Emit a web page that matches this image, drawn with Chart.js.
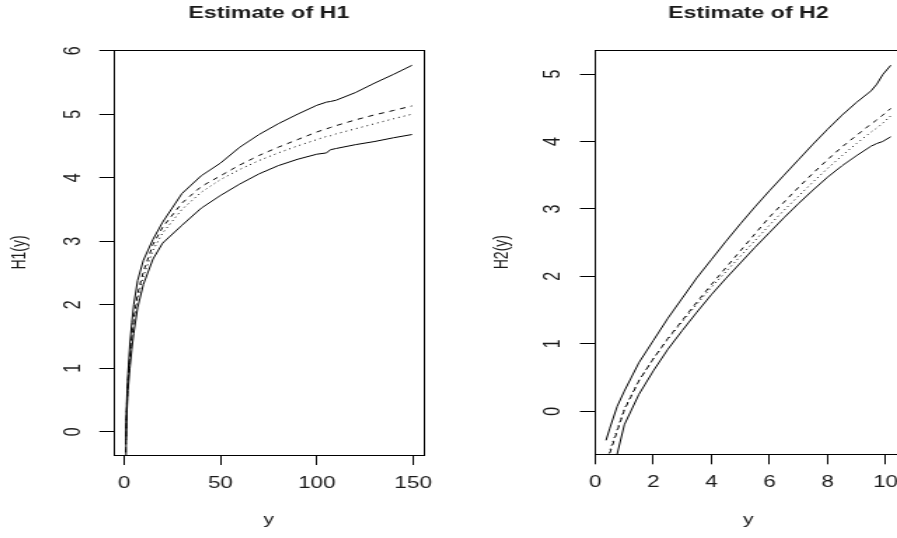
<!DOCTYPE html>
<html>
<head>
<meta charset="utf-8">
<script src="https://cdn.jsdelivr.net/npm/chart.js"></script>
<style>
    html, body { margin: 0; padding: 0; background: #fff; overflow: hidden; }
    #wrap { position: relative; width: 897px; height: 538px; overflow: hidden; }
    #wrap canvas { position: absolute; top: 0; }
</style>
</head>
<body>
<div id="wrap">
    <canvas id="h1Chart" width="320" height="538" style="left:0px; width:448.5px; height:538px"></canvas>
    <canvas id="h2Chart" width="325" height="538" style="left:448.5px; width:455.5px; height:538px"></canvas>
</div>
<script>
// ---- H1 panel data ----
var h1X      = [0.75, 1, 1.5, 2, 3, 4, 5, 7, 10, 15, 20, 30, 40, 50, 60, 70, 80, 90, 100, 105, 107, 110, 120, 130, 140, 149.4];
var h1Upper  = [-0.13, 0.15, 0.6, 0.92, 1.38, 1.72, 2.0, 2.38, 2.7, 3.03, 3.3, 3.75, 4.03, 4.23, 4.48, 4.68, 4.85, 5.0, 5.14, 5.19, 5.2, 5.22, 5.34, 5.49, 5.63, 5.77];
var h1Est    = [-0.45, 0.0, 0.48, 0.8, 1.2, 1.52, 1.78, 2.17, 2.52, 2.95, 3.22, 3.6, 3.86, 4.03, 4.2, 4.35, 4.48, 4.6, 4.72, 4.77, 4.79, 4.82, 4.91, 4.99, 5.06, 5.13];
var h1True   = [-0.45, 0.0, 0.46, 0.78, 1.17, 1.48, 1.73, 2.1, 2.45, 2.86, 3.13, 3.5, 3.77, 3.97, 4.13, 4.27, 4.39, 4.5, 4.6, 4.65, 4.66, 4.69, 4.77, 4.85, 4.93, 5.0];
var h1Lower  = [-0.6, -0.15, 0.35, 0.65, 1.0, 1.3, 1.55, 1.95, 2.32, 2.72, 2.97, 3.25, 3.52, 3.72, 3.9, 4.06, 4.19, 4.29, 4.37, 4.39, 4.44, 4.46, 4.52, 4.57, 4.63, 4.68];
var h1XTicks = [0, 50, 100, 150];
var h1YTicks = [0, 1, 2, 3, 4, 5, 6];

// ---- H2 panel data ----
var h2X      = [0.37, 0.5, 0.75, 1, 1.5, 2, 2.5, 3, 3.5, 4, 4.5, 5, 5.5, 6, 6.5, 7, 7.5, 8, 8.5, 9, 9.5, 9.7, 9.9, 10.18];
var h2Upper  = [-0.43, -0.25, 0.07, 0.3, 0.72, 1.05, 1.38, 1.68, 1.98, 2.25, 2.52, 2.78, 3.03, 3.27, 3.5, 3.73, 3.96, 4.18, 4.39, 4.58, 4.75, 4.85, 4.99, 5.13];
var h2Est    = [-0.85, -0.62, -0.3, 0.02, 0.45, 0.78, 1.08, 1.35, 1.62, 1.88, 2.13, 2.38, 2.63, 2.88, 3.1, 3.32, 3.53, 3.73, 3.92, 4.09, 4.26, 4.32, 4.39, 4.49];
var h2True   = [-0.8, -0.58, -0.27, 0.04, 0.46, 0.78, 1.07, 1.33, 1.59, 1.84, 2.07, 2.3, 2.53, 2.76, 2.98, 3.19, 3.4, 3.6, 3.79, 3.97, 4.14, 4.2, 4.27, 4.38];
var h2Lower  = [null, null, -0.64, -0.2, 0.25, 0.6, 0.92, 1.2, 1.47, 1.73, 1.97, 2.2, 2.43, 2.65, 2.87, 3.08, 3.28, 3.47, 3.64, 3.79, 3.93, 3.97, 4.0, 4.07];
var h2XTicks = [0, 2, 4, 6, 8, 10];
var h2YTicks = [0, 1, 2, 3, 4, 5];

var fontFamily = '"Liberation Sans", Arial, Helvetica, sans-serif';
var textColor = '#1a1a1a';

function pts(xs, ys) {
    return xs.map(function (x, i) { return { x: x, y: ys[i] }; });
}

function line(xs, ys, dash) {
    return {
        data: pts(xs, ys),
        borderColor: '#000',
        borderWidth: 1,
        borderDash: dash || [],
        pointRadius: 0,
        tension: 0,
        fill: false
    };
}

// frame, title and rotated y tick labels the way R draws them
var rStyle = {
    id: 'rStyle',
    afterDraw: function (chart, args, opts) {
        var ctx = chart.ctx, a = chart.chartArea, ys = chart.scales.y;
        ctx.save();
        ctx.strokeStyle = '#000';
        ctx.lineWidth = 1;
        ctx.strokeRect(Math.round(a.left) + 0.5, Math.round(a.top) + 0.5,
                       Math.round(a.right - a.left), Math.round(a.bottom - a.top));

        ctx.fillStyle = textColor;
        ctx.font = 'bold 16.5px ' + fontFamily;
        ctx.textAlign = 'center';
        ctx.textBaseline = 'alphabetic';
        ctx.fillText(opts.title, (a.left + a.right) / 2, 18.3);

        ctx.font = '16px ' + fontFamily;
        ctx.textBaseline = 'middle';
        ys.ticks.forEach(function (t) {
            var y = ys.getPixelForValue(t.value);
            ctx.save();
            ctx.translate(a.left - 29.2, y);
            ctx.rotate(-Math.PI / 2);
            ctx.fillText(String(t.value), 0, 0);
            ctx.restore();
        });
        ctx.restore();
    }
};

function makeChart(id, cfg) {
    return new Chart(document.getElementById(id), {
        type: 'line',
        data: {
            datasets: [
                line(cfg.x, cfg.upper),
                line(cfg.x, cfg.est, [4, 4]),
                line(cfg.x, cfg.tru, [1, 3]),
                line(cfg.x, cfg.lower)
            ]
        },
        options: {
            responsive: false,
            animation: false,
            devicePixelRatio: 1,
            spanGaps: true,
            layout: { padding: { left: 0, right: cfg.padRight, top: 50, bottom: 0 } },
            plugins: {
                legend: { display: false },
                tooltip: { enabled: false },
                rStyle: { title: cfg.title }
            },
            scales: {
                x: {
                    type: 'linear',
                    min: cfg.xMin,
                    max: cfg.xMax,
                    afterBuildTicks: function (s) { s.ticks = cfg.xTicks.map(function (v) { return { value: v }; }); },
                    afterFit: function (s) { s.height = cfg.xHeight; s.paddingRight = 0; s.paddingLeft = 0; },
                    border: { display: false },
                    grid: { drawOnChartArea: false, drawTicks: true, tickLength: 10, color: '#000', lineWidth: 1 },
                    ticks: {
                        autoSkip: false, maxRotation: 0, padding: 9, color: textColor,
                        font: { family: fontFamily, size: 16 }
                    },
                    title: {
                        display: true, text: 'y', color: textColor,
                        font: { family: fontFamily, size: 15 },
                        padding: { top: 0, bottom: 9 }
                    }
                },
                y: {
                    type: 'linear',
                    min: cfg.yMin,
                    max: cfg.yMax,
                    afterBuildTicks: function (s) { s.ticks = cfg.yTicks.map(function (v) { return { value: v }; }); },
                    afterFit: function (s) { s.width = cfg.yWidth; },
                    border: { display: false },
                    grid: { drawOnChartArea: false, drawTicks: true, tickLength: 10.5, color: '#000', lineWidth: 1 },
                    ticks: { display: false },
                    title: {
                        display: true, text: cfg.yTitle, color: textColor,
                        font: { family: fontFamily, size: 14 },
                        padding: { top: cfg.yTitlePad, bottom: 0 }
                    }
                }
            }
        },
        plugins: [rStyle]
    });
}

makeChart('h1Chart', {
    title: 'Estimate of H1', yTitle: 'H1(y)',
    x: h1X, upper: h1Upper, est: h1Est, tru: h1True, lower: h1Lower,
    xTicks: h1XTicks, yTicks: h1YTicks,
    xMin: -5.2, xMax: 155.35, yMin: -0.367, yMax: 6.011,
    padRight: 18.2, yWidth: 81.3, xHeight: 83, yTitlePad: 5.3
});

makeChart('h2Chart', {
    title: 'Estimate of H2', yTitle: 'H2(y)',
    x: h2X, upper: h2Upper, est: h2Est, tru: h2True, lower: h2Lower,
    xTicks: h2XTicks, yTicks: h2YTicks,
    xMin: -0.024, xMax: 10.568, yMin: -0.637, yMax: 5.356,
    padRight: 1.4, yWidth: 104, xHeight: 83.7, yTitlePad: 29.6
});
</script>
</body>
</html>
